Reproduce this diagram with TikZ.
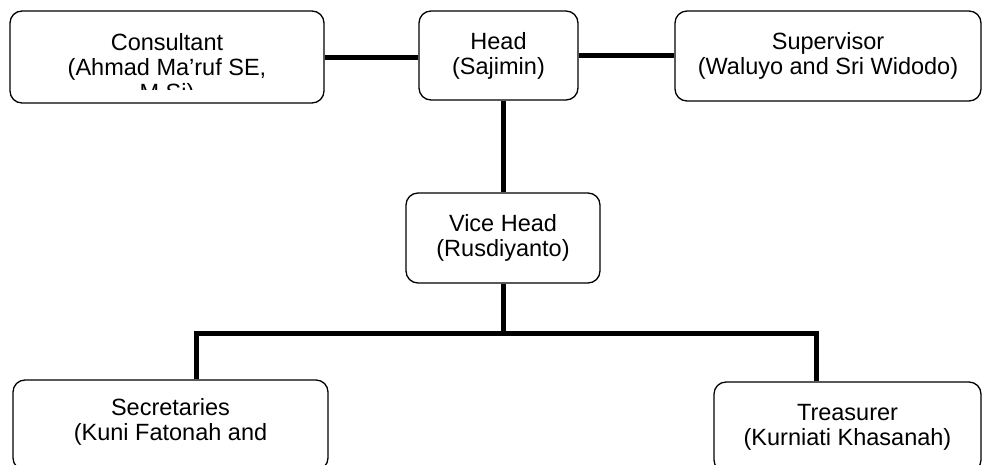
\documentclass[tikz,border=0pt]{standalone}
\usepackage{fontspec}
\setmainfont{Liberation Sans}
\tikzset{
  orgbox/.style={draw, rounded corners=12pt, line width=1.3pt, align=center,
    font=\fontsize{23.5}{25}\selectfont, inner sep=0pt},
  orgtext/.style={align=center, font=\fontsize{23.5}{25}\selectfont, inner sep=0pt},
  link/.style={line width=5pt}
}
\begin{document}
\begin{tikzpicture}[x=1pt,y=-1pt]
  \useasboundingbox (0,0) rectangle (982,464);
  % top row
  \node[orgbox, minimum width=314pt, minimum height=92pt] (cons) at (167,57) {};
  \begin{scope}
    \clip (10,11) rectangle (324,89);
    \node[orgtext] (constxt) at (167,69.2) {Consultant\\(Ahmad Ma’ruf SE,\\M.Si)};
  \end{scope}
  \node[orgbox, minimum width=159pt, minimum height=89pt] (head) at (498.5,55.5) {Head\\(Sajimin)};
  \node[orgbox, minimum width=306pt, minimum height=90pt] (sup) at (828,56) {Supervisor\\(Waluyo and Sri Widodo)};
  % middle
  \node[orgbox, minimum width=194pt, minimum height=90pt] (vice) at (503,238) {Vice Head\\(Rusdiyanto)};
  % bottom row
  \node[orgbox, minimum width=315pt, minimum height=90pt] (sec) at (170.5,425) {};
  \node[orgtext] (sectxt) at (170.5,421.7) {Secretaries\\(Kuni Fatonah and};
  \node[orgbox, minimum width=267pt, minimum height=90pt] (tre) at (847.5,427) {Treasurer\\(Kurniati Khasanah)};
  % connectors
  \coordinate (busL) at (196,333);
  \coordinate (busR) at (816,333);
  \draw[link] (cons.east) -- (cons.east -| head.west);
  \draw[link] (head.east) -- (head.east -| sup.west);
  \draw[link] (vice.north |- head.south) -- (vice.north);
  \draw[link] (vice.south) -- (vice.south |- busL);
  \draw[link] (busL |- sec.north) -- (busL) -- (busR) -- (busR |- tre.north);
\end{tikzpicture}
\end{document}
